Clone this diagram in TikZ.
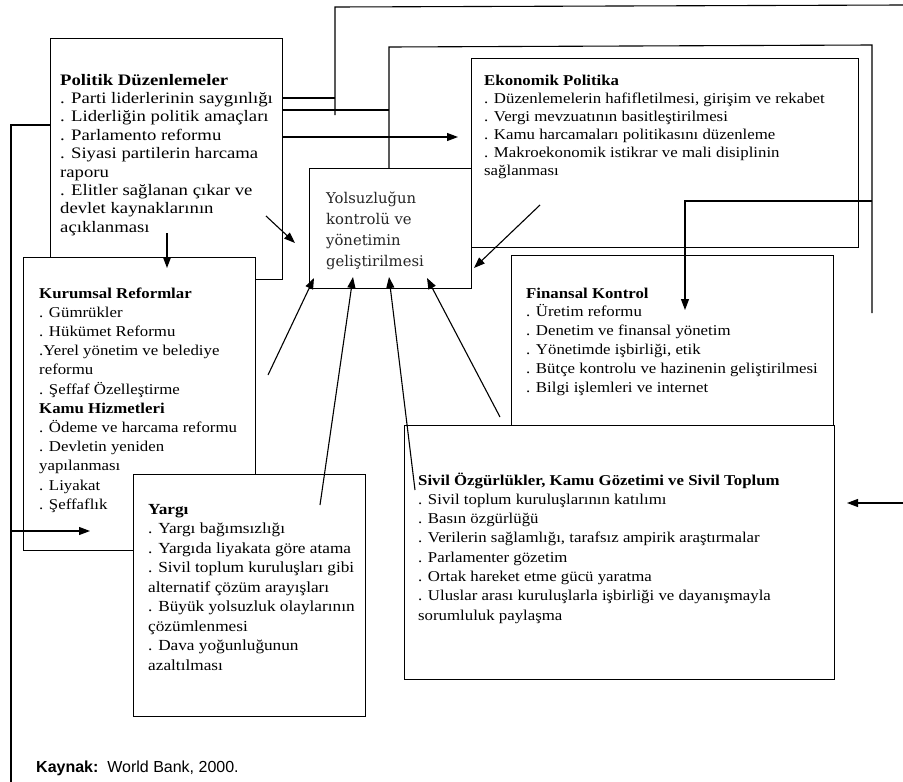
\documentclass[tikz,border=0pt]{standalone}
\usepackage{fontspec}
\setmainfont{Liberation Serif}[FakeStretch=1.12]
\newfontfamily\pfont{Liberation Serif}[FakeStretch=1.17]
\newfontfamily\cfont{DejaVu Serif}
\newfontfamily\kfont{Liberation Sans}
\usetikzlibrary{arrows.meta}
\tikzset{
  box/.style={draw, line width=1.3pt, fill=white, anchor=north west, inner sep=0pt},
  txt/.style={anchor=base west, inner sep=0pt, text=black},
  ln/.style={line width=1.1pt},
  arr/.style={line width=1.1pt, -{Triangle[length=11pt,width=8pt]}}
}
\begin{document}
\begin{tikzpicture}[x=1pt,y=-1pt]
\useasboundingbox (0,0) rectangle (903,782);
% boxes
\node[box, minimum width=232pt, minimum height=241pt] (P) at (50,38) {};
\node[box, minimum width=232pt, minimum height=293pt] (K) at (23,257) {};
\node[box, minimum width=232pt, minimum height=242pt] (Y) at (133,474) {};
\node[box, minimum width=387pt, minimum height=189pt] (E) at (471,58) {};
\node[box, minimum width=162pt, minimum height=120pt] (C) at (309,168) {};
\node[box, minimum width=322pt, minimum height=170pt] (F) at (511,255) {};
\node[box, minimum width=430pt, minimum height=254pt] (S) at (404,425) {};
% texts
\node[txt] (Pt) at (60,85) {\parbox[t]{300pt}{\pfont\fontsize{16}{18.4}\selectfont
\textbf{Politik Düzenlemeler}\\
. Parti liderlerinin saygınlığı\\
. Liderliğin politik amaçları\\
. Parlamento reformu\\
. Siyasi partilerin harcama\\
raporu\\
. Elitler sağlanan çıkar ve\\
devlet kaynaklarının\\
açıklanması}};
\node[txt] (Et) at (484,85) {\parbox[t]{400pt}{\fontsize{15}{18}\selectfont
\textbf{Ekonomik Politika}\\
. Düzenlemelerin hafifletilmesi, girişim ve rekabet\\
. Vergi mevzuatının basitleştirilmesi\\
. Kamu harcamaları politikasını düzenleme\\
. Makroekonomik istikrar ve mali disiplinin\\
sağlanması}};
\node[txt] (Ct) at (326,192) {\parbox[t]{160pt}{\cfont\fontsize{14.8}{21}\selectfont\color{black!85}
Yolsuzluğun\\
kontrolü ve\\
yönetimin\\
geliştirilmesi}};
\node[txt] (Ft) at (526,298) {\parbox[t]{320pt}{\fontsize{15}{18.8}\selectfont
\textbf{Finansal Kontrol}\\
. Üretim reformu\\
. Denetim ve finansal yönetim\\
. Yönetimde işbirliği, etik\\
. Bütçe kontrolu ve hazinenin geliştirilmesi\\
. Bilgi işlemleri ve internet}};
\node[txt] (Kt) at (39,298) {\parbox[t]{230pt}{\fontsize{15}{19.2}\selectfont
\textbf{Kurumsal Reformlar}\\
. Gümrükler\\
. Hükümet Reformu\\
.Yerel yönetim ve belediye\\
reformu\\
. Şeffaf Özelleştirme\\
\textbf{Kamu Hizmetleri}\\
. Ödeme ve harcama reformu\\
. Devletin yeniden\\
yapılanması\\
. Liyakat\\
. Şeffaflık}};
\node[txt] (Yt) at (148,514) {\parbox[t]{230pt}{\fontsize{15.4}{19.5}\selectfont
\textbf{Yargı}\\
. Yargı bağımsızlığı\\
. Yargıda liyakata göre atama\\
. Sivil toplum kuruluşları gibi\\
alternatif çözüm arayışları\\
. Büyük yolsuzluk olaylarının\\
çözümlenmesi\\
. Dava yoğunluğunun\\
azaltılması}};
\node[txt] (St) at (418,485) {\parbox[t]{420pt}{\fontsize{15}{19.3}\selectfont
\textbf{Sivil Özgürlükler, Kamu Gözetimi ve Sivil Toplum}\\
. Sivil toplum kuruluşlarının katılımı\\
. Basın özgürlüğü\\
. Verilerin sağlamlığı, tarafsız ampirik araştırmalar\\
. Parlamenter gözetim\\
. Ortak hareket etme gücü yaratma\\
. Uluslar arası kuruluşlarla işbirliği ve dayanışmayla\\
sorumluluk paylaşma}};
\node[txt] (src) at (36,772) {\kfont\fontsize{16}{18}\selectfont\textbf{Kaynak:}\ \ World Bank, 2000.};
% free ends
\coordinate (t1) at (335,115);
\coordinate (t2) at (335,7);
\coordinate (t3) at (903,5);
\coordinate (u0) at (389,168);
\coordinate (u1) at (389,47);
\coordinate (u2) at (872,45);
\coordinate (u3) at (872,313);
\coordinate (v1) at (872,201);
\coordinate (v2) at (685,201);
\coordinate (v3) at (685,310);
\coordinate (w0) at (11,782);
\coordinate (w1) at (11,125);
\coordinate (w2) at (11,531);
\coordinate (w3) at (90,531);
\coordinate (r0) at (903,503);
\coordinate (r1) at (847,503);
% connectors
\draw[ln] (P.east |- 0,98) -- (t1 |- 0,98);
\draw[ln] (t1) -- (t2) -- (t3);
\draw[ln] (P.east |- 0,110) -- (u1 |- 0,110);
\draw[ln] (u0) -- (u1) -- (u2) -- (u3);
\draw[arr, shorten >=13pt] (P.east |- 0,137) -- (E.west |- 0,137);
\draw[arr] (v1) -- (v2) -- (v3);
\draw[arr] (540,205) -- (474,268);
\draw[arr] (266,216) -- (295,243);
\draw[arr] (167,233) -- (167,268);
\draw[arr] (268,375) -- (314,278);
\draw[arr] (320,505) -- (353,277);
\draw[arr] (415,490) -- (389,277);
\draw[arr] (500,417) -- (427,278);
\draw[ln] (w0) -- (w1) -- (P.west |- w1);
\draw[arr] (w2) -- (w3);
\draw[arr] (r0) -- (r1);
\end{tikzpicture}
\end{document}
